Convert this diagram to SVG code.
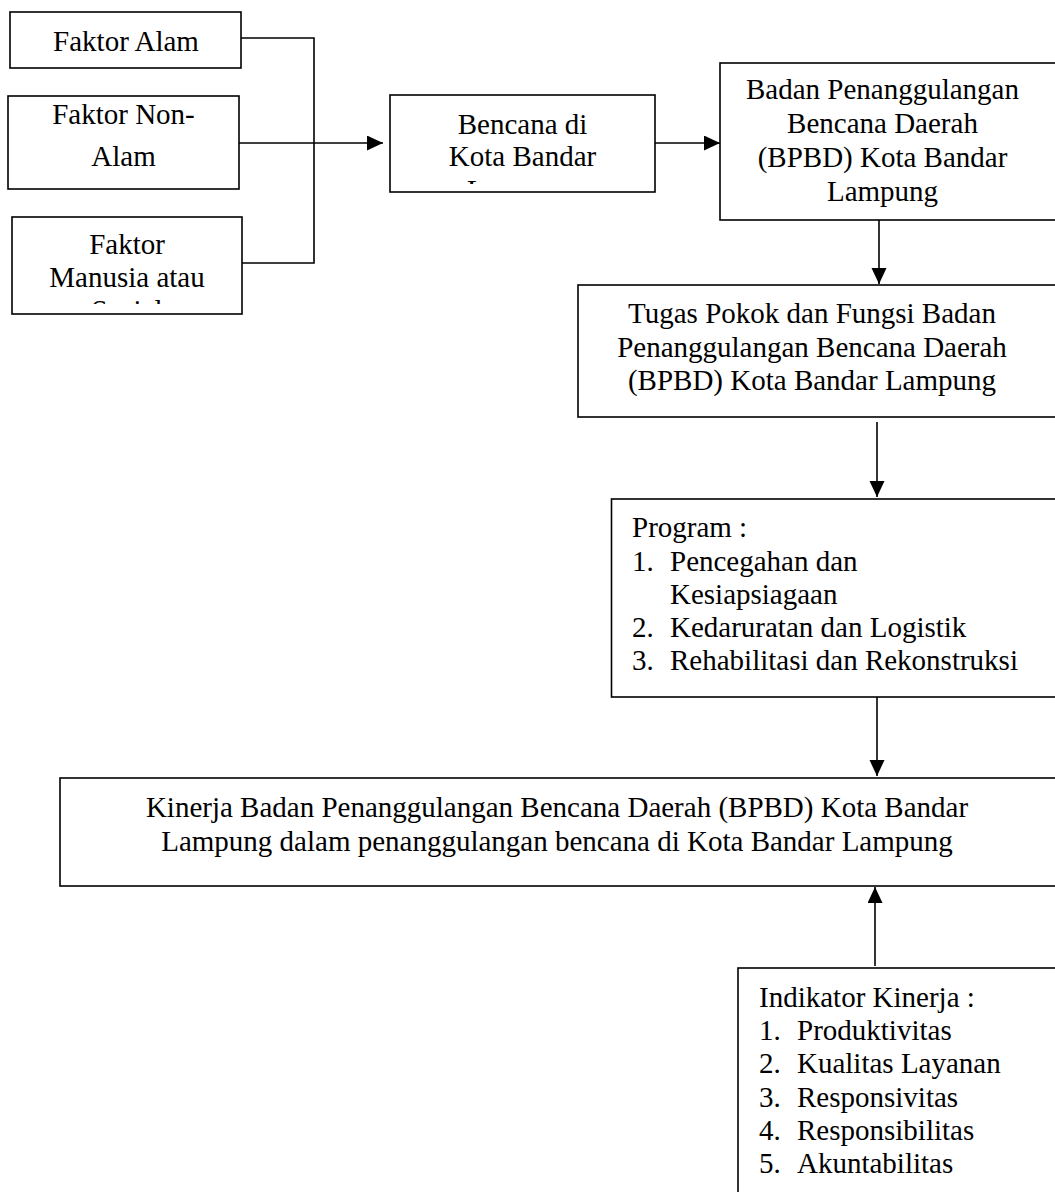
<svg xmlns="http://www.w3.org/2000/svg" width="1055" height="1192" viewBox="0 0 1055 1192">
<style>
  .box { fill: #fff; stroke: #000; stroke-width: 1.6; }
  .t { font-family: "Liberation Serif", "Times New Roman", serif; font-size: 29px; fill: #000; }
  .c { text-anchor: middle; }
  .line { fill: none; stroke: #000; stroke-width: 1.6; }
</style>
<defs>
  <marker id="arr" markerUnits="userSpaceOnUse" markerWidth="17" markerHeight="16" refX="16" refY="7.5" orient="auto">
    <path d="M0,0 L16,7.5 L0,15 z" fill="#000"/>
  </marker>
  <clipPath id="clipBencana"><rect x="390" y="95" width="265" height="89"/></clipPath>
  <clipPath id="clipManusia"><rect x="12" y="217" width="230" height="87"/></clipPath>
</defs>
<rect width="1055" height="1192" fill="#fff"/>

<g id="connectors">
  <polyline class="line" points="241,38 314,38 314,263 242,263"/>
  <line class="line" x1="239" y1="143" x2="383" y2="143" marker-end="url(#arr)"/>
  <line class="line" x1="655" y1="143" x2="720" y2="143" marker-end="url(#arr)"/>
  <line class="line" x1="879" y1="220" x2="879" y2="284" marker-end="url(#arr)"/>
  <line class="line" x1="877" y1="422" x2="877" y2="497" marker-end="url(#arr)"/>
  <line class="line" x1="877" y1="697" x2="877" y2="776" marker-end="url(#arr)"/>
  <line class="line" x1="875" y1="966" x2="875" y2="887" marker-end="url(#arr)"/>
</g>

<g id="faktor-alam">
  <rect class="box" x="10" y="12" width="231" height="56"/>
  <text class="t c" x="126" y="51">Faktor Alam</text>
</g>

<g id="faktor-non-alam">
  <rect class="box" x="8" y="96" width="231" height="93"/>
  <text class="t c" x="123.5" y="124">Faktor Non-</text>
  <text class="t c" x="123.5" y="166">Alam</text>
</g>

<g id="faktor-manusia">
  <rect class="box" x="12" y="217" width="230" height="97"/>
  <g clip-path="url(#clipManusia)">
    <text class="t c" x="127" y="254">Faktor</text>
    <text class="t c" x="127" y="287">Manusia atau</text>
    <text class="t c" x="127" y="320">Sosial</text>
  </g>
</g>

<g id="bencana">
  <rect class="box" x="390" y="95" width="265" height="97"/>
  <g clip-path="url(#clipBencana)">
    <text class="t c" x="522.5" y="134">Bencana di</text>
    <text class="t c" x="522.5" y="166">Kota Bandar</text>
    <text class="t c" x="522.5" y="200">Lampung</text>
  </g>
</g>

<g id="bpbd">
  <rect class="box" x="720" y="63" width="345" height="157"/>
  <text class="t c" x="882.5" y="99">Badan Penanggulangan</text>
  <text class="t c" x="882.5" y="133">Bencana Daerah</text>
  <text class="t c" x="882.5" y="167">(BPBD) Kota Bandar</text>
  <text class="t c" x="882.5" y="201">Lampung</text>
</g>

<g id="tugas">
  <rect class="box" x="578" y="285" width="487" height="132"/>
  <text class="t c" x="812" y="323">Tugas Pokok dan Fungsi Badan</text>
  <text class="t c" x="812" y="356.5">Penanggulangan Bencana Daerah</text>
  <text class="t c" x="812" y="390">(BPBD) Kota Bandar Lampung</text>
</g>

<g id="program">
  <rect class="box" x="611.5" y="499" width="453" height="198"/>
  <text class="t" x="632" y="537">Program :</text>
  <text class="t" x="632" y="571">1.</text>
  <text class="t" x="670" y="571">Pencegahan dan</text>
  <text class="t" x="670" y="604">Kesiapsiagaan</text>
  <text class="t" x="632" y="637">2.</text>
  <text class="t" x="670" y="637">Kedaruratan dan Logistik</text>
  <text class="t" x="632" y="670">3.</text>
  <text class="t" x="670" y="670">Rehabilitasi dan Rekonstruksi</text>
</g>

<g id="kinerja">
  <rect class="box" x="60" y="778" width="1005" height="108"/>
  <text class="t c" x="557" y="817">Kinerja Badan Penanggulangan Bencana Daerah (BPBD) Kota Bandar</text>
  <text class="t c" x="557" y="851">Lampung dalam penanggulangan bencana di Kota Bandar Lampung</text>
</g>

<g id="indikator">
  <rect class="box" x="738" y="968" width="327" height="240"/>
  <text class="t" x="759" y="1007">Indikator Kinerja :</text>
  <text class="t" x="759" y="1040">1.</text>
  <text class="t" x="797" y="1040">Produktivitas</text>
  <text class="t" x="759" y="1073">2.</text>
  <text class="t" x="797" y="1073">Kualitas Layanan</text>
  <text class="t" x="759" y="1107">3.</text>
  <text class="t" x="797" y="1107">Responsivitas</text>
  <text class="t" x="759" y="1140">4.</text>
  <text class="t" x="797" y="1140">Responsibilitas</text>
  <text class="t" x="759" y="1173">5.</text>
  <text class="t" x="797" y="1173">Akuntabilitas</text>
</g>
</svg>
